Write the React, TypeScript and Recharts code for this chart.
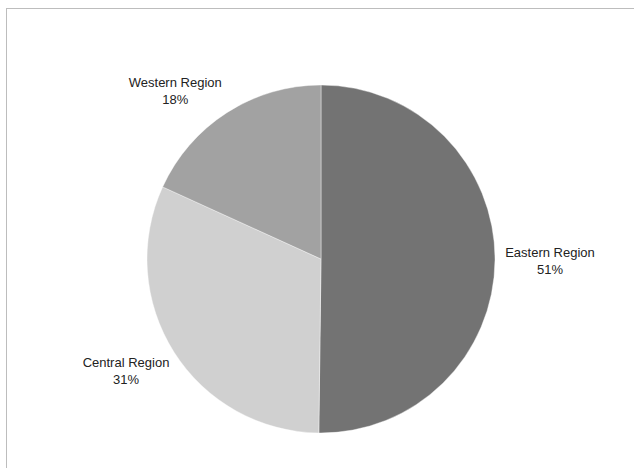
import React from 'react'
import { PieChart, Pie, Cell } from 'recharts'

const regions = ['Eastern Region', 'Central Region', 'Western Region']
const shares = [50.2, 31.6, 18.2]
const shareLabels = ['51%', '31%', '18%']
const sliceColors = ['#737373', '#d0d0d0', '#a2a2a2']

const data = regions.map((name, i) => ({ name, value: shares[i], pct: shareLabels[i] }))

// Excel-style "best fit" label nudges
const labelNudge = [
  { dx: 4, dy: 1 },
  { dx: -5, dy: -9 },
  { dx: -24, dy: 21 },
]

const RADIAN = Math.PI / 180

const renderLabel = (props: any) => {
  const { cx, cy, midAngle, outerRadius, index } = props
  const r = outerRadius + 51
  const n = labelNudge[index] || { dx: 0, dy: 0 }
  const x = cx + r * Math.cos(-midAngle * RADIAN) + n.dx
  const y = cy + r * Math.sin(-midAngle * RADIAN) + n.dy
  return (
    <text
      x={x}
      y={y}
      textAnchor="middle"
      fill="#222"
      fontSize={13}
      fontFamily="'Liberation Sans', Arial, sans-serif"
    >
      <tspan x={x} dy={-4}>{data[index].name}</tspan>
      <tspan x={x} dy={17}>{data[index].pct}</tspan>
    </text>
  )
}

export default function App() {
  return (
    <div
      style={{
        position: 'absolute',
        left: 6,
        top: 8,
        width: 640,
        height: 470,
        border: '1px solid #bdbdbd',
        background: '#fff',
      }}
    >
      <PieChart width={640} height={470}>
        <Pie
          data={data}
          dataKey="value"
          nameKey="name"
          cx={309}
          cy={245}
          outerRadius={174}
          startAngle={90}
          endAngle={-270}
          stroke="#ffffff"
          strokeWidth={0.4}
          label={renderLabel}
          labelLine={false}
          isAnimationActive={false}
        >
          {data.map((d, i) => (
            <Cell key={d.name} fill={sliceColors[i]} />
          ))}
        </Pie>
      </PieChart>
    </div>
  )
}
